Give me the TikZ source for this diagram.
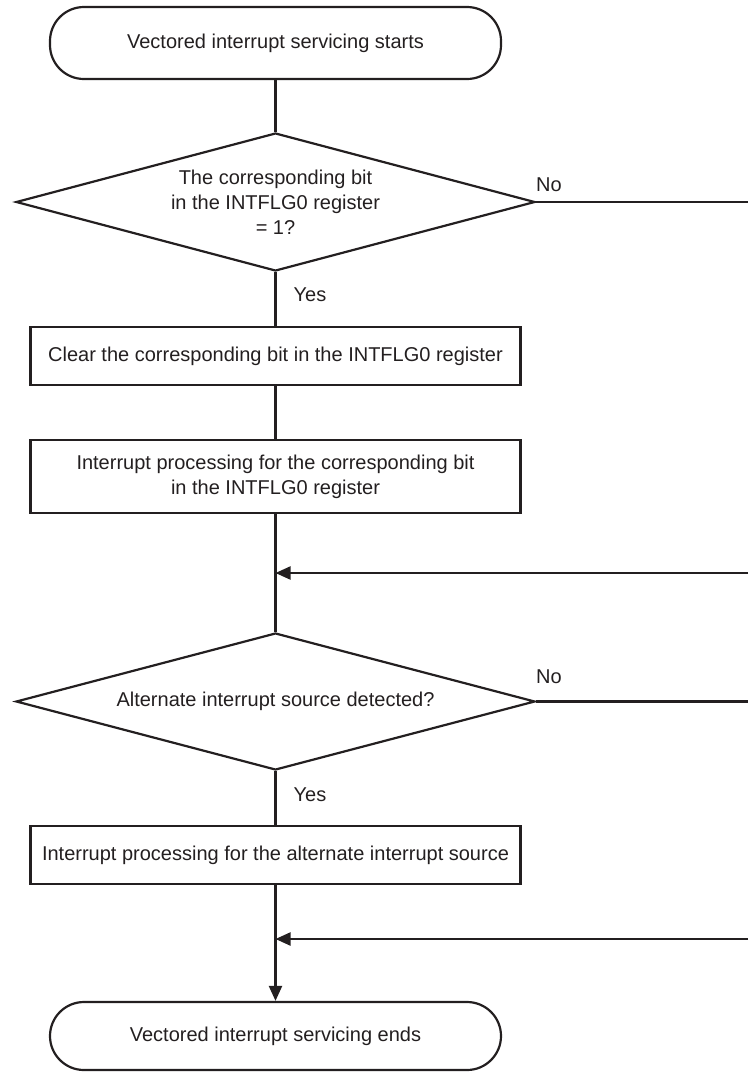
\documentclass[tikz,border=0pt]{standalone}
\usepackage{fontspec}
\setmainfont{Liberation Sans}
\usetikzlibrary{shapes.geometric,arrows.meta}
\definecolor{ink}{HTML}{231F20}
\begin{document}
\begin{tikzpicture}[x=1pt,y=-1pt,
  every node/.style={font=\fontsize{20}{25}\selectfont, text=ink},
  line/.style={draw=ink, line width=2.2pt},
  term/.style={line, rectangle, rounded corners=34pt, minimum width=451pt, inner sep=0pt},
  procbox/.style={line, rectangle, minimum width=490pt, inner sep=0pt, align=center},
  decision/.style={line, diamond, aspect=3.76, inner sep=0pt, minimum width=519pt, minimum height=138pt, align=center},
  arr/.style={line, -{Triangle[length=15pt,width=13pt]}},
  lbl/.style={inner sep=0pt}
]
\useasboundingbox (0,0) rectangle (748,1072);

\node[term, minimum height=72pt] (start) at (275.5,43) {Vectored interrupt servicing starts};
\node[decision] (d1) at (275.5,202) {The corresponding bit\\in the INTFLG0 register\\= 1?};
\node[procbox, minimum height=58pt] (b1) at (275.5,356) {Clear the corresponding bit in the INTFLG0 register};
\node[procbox, minimum height=73pt] (b2) at (275.5,476.5) {Interrupt processing for the corresponding bit\\in the INTFLG0 register};
\node[decision, minimum height=137pt] (d2) at (275.5,701.5) {Alternate interrupt source detected?};
\node[procbox, minimum height=58pt] (b3) at (275.5,855) {Interrupt processing for the alternate interrupt source};
\node[term, minimum height=68pt] (end) at (275.5,1036) {Vectored interrupt servicing ends};

\coordinate (m1) at (275.5,573);
\coordinate (m2) at (275.5,939);
\coordinate (r1) at (748,202);
\coordinate (r1b) at (748,573);
\coordinate (r2) at (748,701.5);
\coordinate (r2b) at (748,939);

\draw[line] (start.south) -- (d1.north);
\draw[line] (d1.south) -- (b1.north);
\draw[line] (b1.south) -- (b2.north);
\draw[line] (b2.south) -- (d2.north);
\draw[line] (d2.south) -- (b3.north);
\draw[arr] (b3.south) -- (end.north);
\draw[line] (d1.east) -- (r1);
\draw[line] (d2.east) -- (r2);
\draw[arr] (r1b) -- (m1);
\draw[arr] (r2b) -- (m2);

\node[lbl] (no1) at (549,185) {No};
\node[lbl] (yes1) at (310,295) {Yes};
\node[lbl] (no2) at (549,677) {No};
\node[lbl] (yes2) at (310,795) {Yes};
\end{tikzpicture}
\end{document}
